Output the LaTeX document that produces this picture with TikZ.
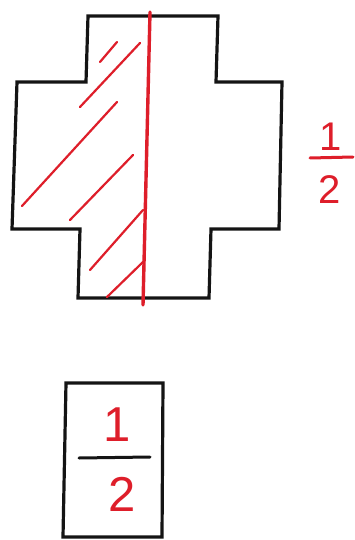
\documentclass[tikz,border=0pt]{standalone}
\usepackage{fontspec}
\setmainfont{Liberation Sans}
\usepackage{xcolor}
\usepackage{tikz}
\usetikzlibrary{positioning, calc}
\definecolor{Ink}{HTML}{141414}
\definecolor{Pen}{HTML}{DE1E2A}

\begin{document}
\begin{tikzpicture}[
  x=1pt, y=-1pt,
  outline/.style={draw=Ink, line width=3.2pt, line join=miter},
  cut/.style={draw=Pen, line width=3.4pt, line cap=round},
  hatch/.style={draw=Pen, line width=2.2pt, line cap=round},
  bar/.style={line width=3pt, line cap=round},
  digit/.style={text=Pen, inner sep=0pt, font=\fontsize{40}{40}\selectfont},
  bigdigit/.style={digit, font=\fontsize{49}{49}\selectfont}
]
\useasboundingbox (0,0) rectangle (355,540);
\fill[white] (0,0) rectangle (355,540);

% cross shape
\draw[outline] (88,16) -- (218,16) -- (216,82) -- (282,82) -- (279,229) -- (211,229)
  -- (209,298) -- (78,298) -- (80,229) -- (12,229) -- (17,82) -- (86,82) -- cycle;

% shading of the left half
\foreach \xa/\ya/\xb/\yb in {100/62/117/42, 80/107/140/43, 22/206/117/102,
                            70/220/133/155, 90/270/143/210, 107/297/143/262}
  \draw[hatch] (\xa,\ya) -- (\xb,\yb);

% dividing line
\coordinate (cuttop) at (150,12);
\coordinate (cutbot) at (143,305);
\draw[cut] (cuttop) -- (cutbot);

% fraction beside the shape
\node[digit] (onea) at (331,137) {1};
\node[digit] (twoa) at (330,190) {2};
\coordinate (bara) at (310,158);
\coordinate (barb) at (353,157);
\draw[bar, draw=Pen] (bara) -- (barb);

% boxed answer
\draw[outline] (66,383) -- (163,383) -- (162,537) -- (63,537) -- cycle;
\node[bigdigit] (oneb) at (117,425) {1};
\node[bigdigit] (twob) at (122,494) {2};
\coordinate (barc) at (79,458);
\coordinate (bard) at (150,457);
\draw[bar, draw=Ink] (barc) -- (bard);
\end{tikzpicture}
\end{document}
